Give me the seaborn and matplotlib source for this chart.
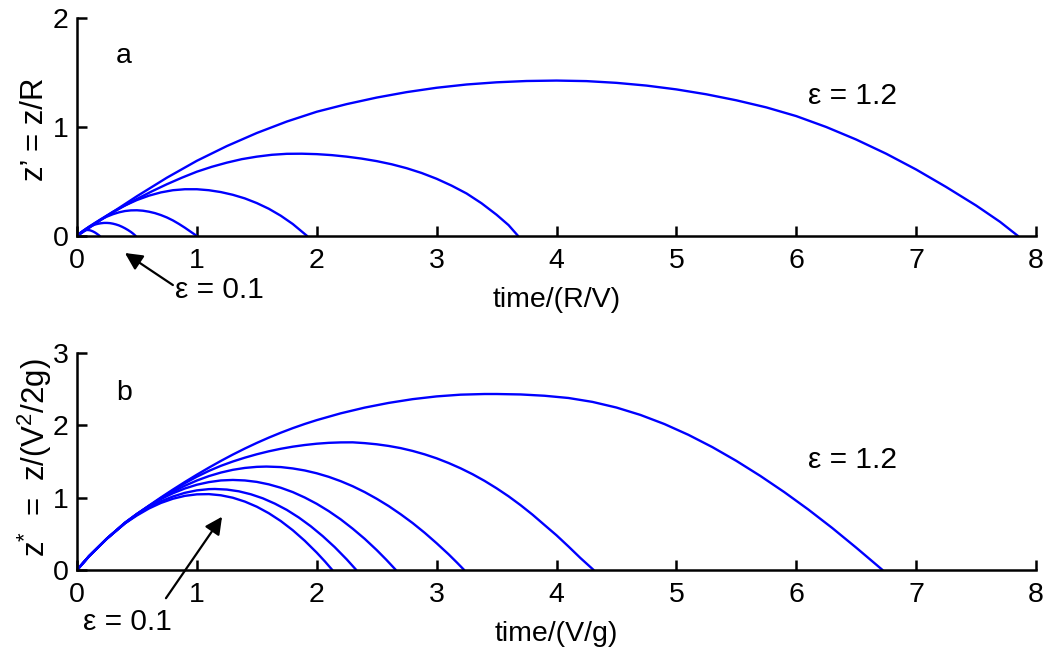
import numpy as np
import pandas as pd
import matplotlib
matplotlib.use("Agg")
import matplotlib.pyplot as plt
import seaborn as sns

# ---------------- data ----------------
# Panel a: z' = z/R vs time/(R/V), six trajectories (eps = 0.1 ... 1.2)
a1_t = [0, 0.015, 0.03, 0.045, 0.06, 0.075, 0.09, 0.105, 0.12, 0.135, 0.15, 0.165, 0.18, 0.19]
a1_z = [0, 0.017, 0.031, 0.042, 0.050, 0.054, 0.055, 0.053, 0.048, 0.041, 0.032, 0.021, 0.009, 0]
a2_t = [0, 0.025, 0.05, 0.075, 0.1, 0.125, 0.15, 0.175, 0.2, 0.225, 0.25, 0.275, 0.3, 0.325,
        0.35, 0.375, 0.4, 0.425, 0.45, 0.47, 0.49]
a2_z = [0, 0.025, 0.047, 0.066, 0.082, 0.095, 0.105, 0.112, 0.117, 0.120, 0.120, 0.118, 0.113,
        0.106, 0.097, 0.085, 0.071, 0.055, 0.037, 0.020, 0]
a3_t = [0, 0.05, 0.1, 0.15, 0.2, 0.25, 0.3, 0.35, 0.4, 0.45, 0.5, 0.55, 0.6, 0.65, 0.7, 0.75,
        0.8, 0.85, 0.9, 0.95, 1.0]
a3_z = [0, 0.045, 0.085, 0.120, 0.152, 0.178, 0.200, 0.217, 0.229, 0.235, 0.236, 0.232, 0.223,
        0.210, 0.192, 0.170, 0.143, 0.111, 0.076, 0.038, 0]
a4_t = [0, 0.05, 0.1, 0.2, 0.3, 0.4, 0.5, 0.6, 0.7, 0.8, 0.9, 1.0, 1.1, 1.2, 1.3, 1.4, 1.5,
        1.6, 1.7, 1.8, 1.92]
a4_z = [0, 0.042, 0.082, 0.155, 0.222, 0.280, 0.330, 0.370, 0.400, 0.420, 0.429, 0.429, 0.420,
        0.403, 0.378, 0.345, 0.302, 0.250, 0.186, 0.110, 0]
a5_t = [0, 0.125, 0.25, 0.375, 0.5, 0.625, 0.75, 0.875, 1.0, 1.125, 1.25, 1.375, 1.5, 1.625,
        1.75, 1.875, 2.0, 2.125, 2.25, 2.375, 2.5, 2.625, 2.75, 2.875, 3.0, 3.125, 3.25, 3.375,
        3.5, 3.6, 3.68]
a5_z = [0, 0.095, 0.185, 0.265, 0.340, 0.410, 0.475, 0.535, 0.590, 0.635, 0.673, 0.705, 0.728,
        0.745, 0.754, 0.755, 0.751, 0.742, 0.728, 0.710, 0.687, 0.658, 0.622, 0.578, 0.525,
        0.462, 0.390, 0.300, 0.195, 0.100, 0]
a6_t = [0, 0.25, 0.5, 0.75, 1.0, 1.25, 1.5, 1.75, 2.0, 2.25, 2.5, 2.75, 3.0, 3.25, 3.5, 3.75,
        4.0, 4.25, 4.5, 4.75, 5.0, 5.25, 5.5, 5.75, 6.0, 6.25, 6.5, 6.75, 7.0, 7.25, 7.5, 7.7, 7.85]
a6_z = [0, 0.185, 0.365, 0.535, 0.690, 0.825, 0.945, 1.050, 1.140, 1.210, 1.270, 1.320, 1.360,
        1.390, 1.410, 1.422, 1.426, 1.421, 1.405, 1.380, 1.345, 1.300, 1.245, 1.180, 1.100,
        1.000, 0.885, 0.755, 0.610, 0.450, 0.280, 0.130, 0]

# Panel b: z* = z/(V^2/2g) vs time/(V/g), six trajectories
b1_t = [0, 0.1, 0.25, 0.4, 0.5, 0.6, 0.7, 0.8, 0.9, 1.0, 1.1, 1.2, 1.3, 1.4, 1.5, 1.6, 1.7,
        1.8, 1.9, 2.0, 2.07, 2.13]
b1_z = [0, 0.19, 0.435, 0.645, 0.754, 0.850, 0.927, 0.985, 1.025, 1.046, 1.049, 1.033, 0.999,
        0.946, 0.875, 0.785, 0.677, 0.550, 0.404, 0.240, 0.115, 0]
b2_t = [0, 0.1, 0.25, 0.4, 0.5, 0.6, 0.7, 0.8, 0.9, 1.0, 1.1, 1.15, 1.25, 1.35, 1.45, 1.55,
        1.65, 1.75, 1.85, 1.95, 2.05, 2.15, 2.25, 2.33]
b2_z = [0, 0.19, 0.435, 0.645, 0.763, 0.864, 0.949, 1.016, 1.067, 1.101, 1.118, 1.120, 1.112,
        1.088, 1.047, 0.991, 0.918, 0.831, 0.726, 0.605, 0.468, 0.316, 0.147, 0]
b3_t = [0, 0.1, 0.25, 0.4, 0.5, 0.6, 0.7, 0.8, 0.9, 1.0, 1.1, 1.2, 1.3, 1.4, 1.5, 1.6, 1.7,
        1.8, 1.9, 2.0, 2.1, 2.2, 2.3, 2.4, 2.5, 2.58, 2.66]
b3_z = [0, 0.19, 0.435, 0.649, 0.773, 0.884, 0.980, 1.061, 1.127, 1.179, 1.215, 1.238, 1.245,
        1.238, 1.218, 1.184, 1.137, 1.077, 1.002, 0.915, 0.814, 0.700, 0.571, 0.431, 0.276,
        0.142, 0]
b4_t = [0, 0.1, 0.25, 0.4, 0.5, 0.6, 0.7, 0.8, 0.9, 1.0, 1.1, 1.2, 1.3, 1.4, 1.5, 1.58, 1.7,
        1.8, 1.9, 2.0, 2.1, 2.2, 2.3, 2.4, 2.5, 2.6, 2.7, 2.8, 2.9, 3.0, 3.1, 3.17, 3.23]
b4_z = [0, 0.19, 0.435, 0.650, 0.772, 0.882, 0.987, 1.081, 1.165, 1.237, 1.298, 1.347, 1.385,
        1.411, 1.426, 1.430, 1.423, 1.404, 1.376, 1.337, 1.288, 1.228, 1.158, 1.077, 0.985,
        0.884, 0.771, 0.649, 0.515, 0.370, 0.217, 0.102, 0]
b5_t = [0, 0.1, 0.25, 0.4, 0.5, 0.6, 0.7, 0.8, 0.9, 1.0, 1.1, 1.2, 1.3, 1.4, 1.5, 1.6, 1.7,
        1.8, 1.9, 2.0, 2.1, 2.2, 2.3, 2.4, 2.5, 2.6, 2.7, 2.8, 2.9, 3.0, 3.1, 3.2, 3.3, 3.4,
        3.5, 3.6, 3.7, 3.8, 3.9, 4.0, 4.1, 4.2, 4.31]
b5_z = [0, 0.19, 0.435, 0.652, 0.775, 0.885, 0.995, 1.100, 1.200, 1.290, 1.370, 1.440, 1.500,
        1.553, 1.600, 1.641, 1.676, 1.705, 1.728, 1.746, 1.758, 1.764, 1.765, 1.754, 1.738,
        1.715, 1.685, 1.646, 1.599, 1.544, 1.479, 1.406, 1.324, 1.232, 1.130, 1.019, 0.897,
        0.765, 0.622, 0.480, 0.325, 0.165, 0]
b6_t = [0, 0.1, 0.25, 0.4, 0.5, 0.6, 0.7, 0.8, 0.9, 1.0, 1.1, 1.2, 1.3, 1.4, 1.5, 1.6, 1.7,
        1.8, 1.9, 2.0, 2.2, 2.4, 2.6, 2.8, 3.0, 3.2, 3.4, 3.5, 3.7, 3.9, 4.1, 4.3, 4.5, 4.7,
        4.9, 5.1, 5.3, 5.5, 5.7, 5.9, 6.1, 6.3, 6.5, 6.72]
b6_z = [0, 0.19, 0.435, 0.655, 0.775, 0.890, 1.003, 1.112, 1.217, 1.318, 1.415, 1.508, 1.596,
        1.679, 1.757, 1.830, 1.898, 1.961, 2.019, 2.072, 2.166, 2.245, 2.310, 2.362, 2.400,
        2.424, 2.433, 2.433, 2.427, 2.409, 2.378, 2.324, 2.246, 2.144, 2.018, 1.869, 1.699,
        1.509, 1.301, 1.077, 0.837, 0.581, 0.309, 0]

x_ticks = [0, 1, 2, 3, 4, 5, 6, 7, 8]
ya_ticks = [0, 1, 2]
yb_ticks = [0, 1, 2, 3]

curves_a = [(a1_t, a1_z), (a2_t, a2_z), (a3_t, a3_z), (a4_t, a4_z), (a5_t, a5_z), (a6_t, a6_z)]
curves_b = [(b1_t, b1_z), (b2_t, b2_z), (b3_t, b3_z), (b4_t, b4_z), (b5_t, b5_z), (b6_t, b6_z)]

# ---------------- style ----------------
sns.set_theme(style="ticks")
plt.rcParams["font.family"] = ["Liberation Sans", "DejaVu Sans"]
plt.rcParams["mathtext.fontset"] = "custom"
plt.rcParams["mathtext.rm"] = "Liberation Sans"
plt.rcParams["text.color"] = "black"
plt.rcParams["axes.labelcolor"] = "black"
FS = 20.5
FS_Y = 22.5
LINE = "#0000ff"

fig = plt.figure(figsize=(10.47, 6.56), dpi=100)
fig.patch.set_facecolor("white")
ax_a = fig.add_axes([77 / 1047, 1 - 236 / 656, 959 / 1047, 218 / 656])
ax_b = fig.add_axes([77 / 1047, 1 - 570 / 656, 959 / 1047, 217 / 656])


def draw(ax, curves):
    for t, z in curves:
        df = pd.DataFrame({"t": t, "z": z})
        sns.lineplot(data=df, x="t", y="z", ax=ax, color=LINE, lw=1.7,
                     sort=False, estimator=None, legend=False)


def style(ax, yticks, ymax):
    ax.set_xlim(0, 8)
    ax.set_ylim(0, ymax)
    ax.set_xticks(x_ticks)
    ax.set_yticks(yticks)
    ax.set_xticklabels([str(v) for v in x_ticks])
    ax.set_yticklabels([str(v) for v in yticks])
    for s in ["top", "right"]:
        ax.spines[s].set_visible(False)
    for s in ["left", "bottom"]:
        ax.spines[s].set_linewidth(1.8)
        ax.spines[s].set_color("black")
    ax.tick_params(axis="both", direction="in", length=7, width=1.8,
                   color="black", labelsize=FS, labelcolor="black")
    ax.tick_params(axis="x", pad=9)
    ax.tick_params(axis="y", pad=6)
    ax.set_facecolor("white")
    ax.grid(False)


draw(ax_a, curves_a)
draw(ax_b, curves_b)
style(ax_a, ya_ticks, 2)
style(ax_b, yb_ticks, 3)

# axis labels
ax_a.set_xlabel("time/(R/V)", fontsize=FS, color="black")
ax_a.xaxis.label.set_va("center")
ax_a.xaxis.set_label_coords(0.50, -0.295)
ax_a.set_ylabel("z\u2019 = z/R", fontsize=FS_Y, color="black")
ax_a.yaxis.label.set_va("center")
ax_a.yaxis.set_label_coords(-0.044, 0.49)

ax_b.set_xlabel("time/(V/g)", fontsize=FS, color="black")
ax_b.xaxis.label.set_va("center")
ax_b.xaxis.set_label_coords(0.50, -0.295)
ax_b.set_ylabel(r"$\mathregular{z^{*}\ =\ z/(V^{2}/2g)}$", fontsize=FS_Y, color="black")
ax_b.yaxis.label.set_va("center")
ax_b.yaxis.set_label_coords(-0.044, 0.52)

# panel letters and epsilon labels
ax_a.text(0.32, 1.65, "a", fontsize=FS, ha="left", va="center", color="black")
ax_b.text(0.33, 2.45, "b", fontsize=FS, ha="left", va="center", color="black")
ax_a.text(6.1, 1.28, "\u03b5 = 1.2", fontsize=FS + 1, ha="left", va="center", color="black")
ax_b.text(6.1, 1.52, "\u03b5 = 1.2", fontsize=FS + 1, ha="left", va="center", color="black")

arrow = dict(arrowstyle="-|>", color="black", lw=1.6, mutation_scale=26,
             shrinkA=0, shrinkB=0)
ax_a.annotate("", xy=(0.40, -0.156), xytext=(0.80, -0.45),
              arrowprops=arrow, annotation_clip=False)
ax_a.text(0.82, -0.50, "\u03b5 = 0.1", fontsize=FS + 1, ha="left", va="center",
          clip_on=False, color="black")
ax_b.annotate("", xy=(1.21, 0.737), xytext=(0.742, -0.39),
              arrowprops=arrow, annotation_clip=False)
ax_b.text(0.053, -0.72, "\u03b5 = 0.1", fontsize=FS + 1, ha="left", va="center",
          clip_on=False, color="black")

fig.savefig("out.png", dpi=100, facecolor="white")
